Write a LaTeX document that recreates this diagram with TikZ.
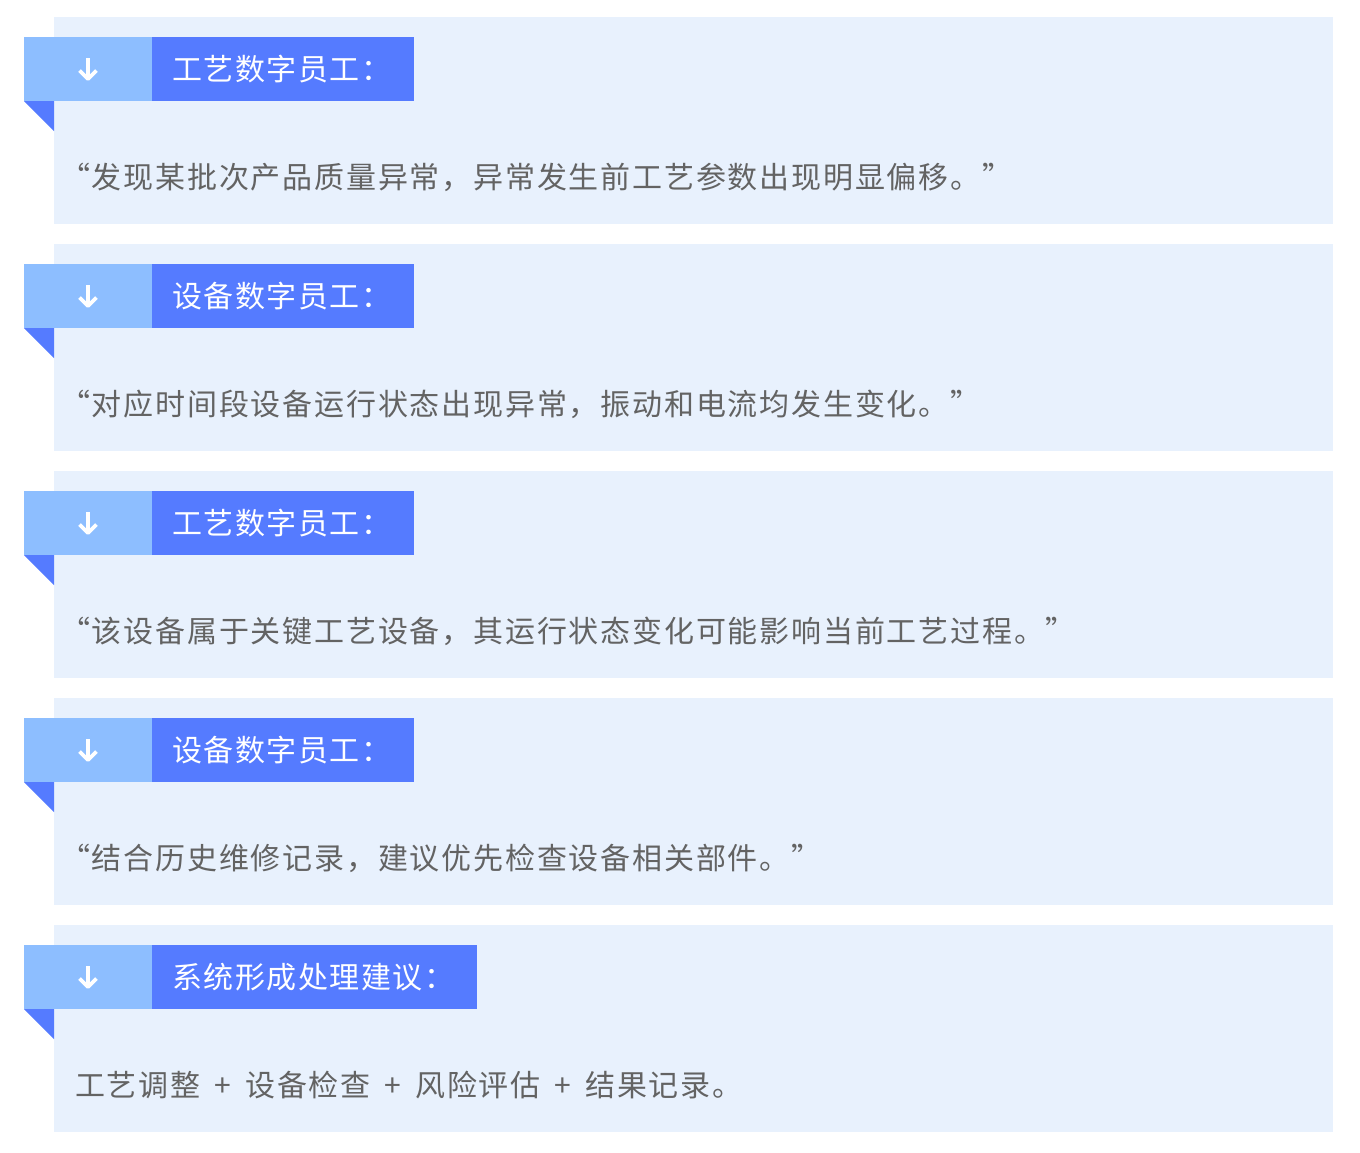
\documentclass[tikz,border=0pt]{standalone}
\usepackage{fontspec}
\setmainfont{Noto Sans CJK SC}
\newfontfamily\cjkhead[LetterSpace=5]{Noto Sans CJK SC}
\newfontfamily\cjkbody[LetterSpace=6]{Noto Sans CJK SC}
\definecolor{panelbg}{HTML}{E8F1FD}
\definecolor{tablight}{HTML}{8DBEFF}
\definecolor{tabdark}{HTML}{557BFF}
\definecolor{bodygray}{HTML}{636363}
\tikzset{
  panelbox/.style={fill=panelbg, draw=none, inner sep=0pt, minimum width=1279pt, minimum height=207pt, anchor=north west},
  headtext/.style={text=white, inner sep=0pt, anchor=west, font=\cjkhead\fontsize{30pt}{34pt}\selectfont},
  bodytext/.style={text=bodygray, inner sep=0pt, anchor=west, font=\cjkbody\fontsize{30pt}{34pt}\selectfont},
  arrowicon/.style={draw=white, line width=3.6pt, line cap=butt, line join=round},
}
\newcommand{\plusgap}{\hspace{14pt}+\hspace{14pt}}
\begin{document}
\begin{tikzpicture}[x=1pt,y=-1pt]
\useasboundingbox (0,0) rectangle (1360,1152);
\foreach \i/\tabr/\bx/\head/\body in {
  0/414/60/{工艺数字员工：}/{“发现某批次产品质量异常，异常发生前工艺参数出现明显偏移。”},
  1/414/60/{设备数字员工：}/{“对应时间段设备运行状态出现异常，振动和电流均发生变化。”},
  2/414/60/{工艺数字员工：}/{“该设备属于关键工艺设备，其运行状态变化可能影响当前工艺过程。”},
  3/414/60/{设备数字员工：}/{“结合历史维修记录，建议优先检查设备相关部件。”},
  4/477/75/{系统形成处理建议：}/{工艺调整\plusgap 设备检查\plusgap 风险评估\plusgap 结果记录。}} {
  \pgfmathsetmacro{\off}{227*\i}
  \node[panelbox] (panel\i) at (54,17+\off) {};
  \fill[tablight] (24,37+\off) rectangle (152,101+\off);
  \fill[tabdark] (152,37+\off) rectangle (\tabr,101+\off);
  \fill[tabdark] (24,101+\off) -- (54,101+\off) -- (54,131+\off) -- cycle;
  \coordinate (arrowtop\i) at (88,58+\off);
  \coordinate (arrowtip\i) at (88,79+\off);
  \draw[arrowicon] (arrowtop\i) -- (arrowtip\i);
  \draw[arrowicon] (79.5,70.5+\off) -- (arrowtip\i) -- (96.5,70.5+\off);
  \node[headtext] (head\i) at (172,69+\off) {\head};
  \node[bodytext] (body\i) at (\bx,177+\off) {\body};
}
\end{tikzpicture}
\end{document}
